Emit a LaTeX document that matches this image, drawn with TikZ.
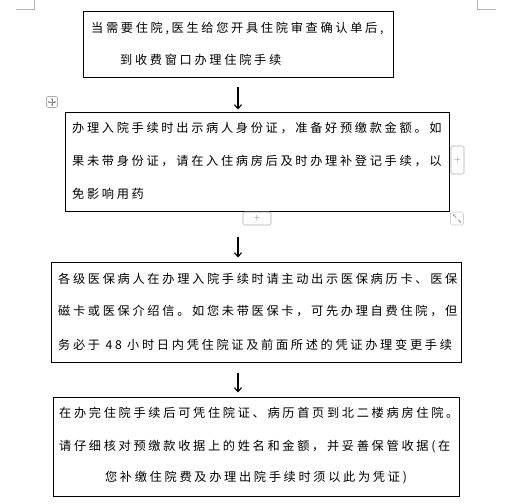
\documentclass[tikz,border=0pt]{standalone}
\usepackage{fontspec}
\newfontfamily\cjk[LetterSpace=22]{Noto Sans CJK SC}
\usetikzlibrary{arrows.meta}
\begin{document}
\begin{tikzpicture}[x=1pt,y=-1pt,
  box/.style={draw, line width=1pt, inner sep=0pt},
  txt/.style={anchor=west, inner sep=0pt, font=\cjk\fontsize{12.2pt}{14pt}\selectfont},
  flow/.style={line width=1.1pt, -{Straight Barb[length=4pt,width=7pt]}},
  ui/.style={draw=gray!65, rounded corners=1.5pt, line width=0.6pt, inner sep=0pt, text=gray!90!black, font=\sffamily\small}]
\useasboundingbox (0,0) rectangle (523,504);
% crop marks
\draw[gray!60, line width=0.6pt] (16,9) -- (34,9) -- (34,0);
\draw[gray!60, line width=0.6pt] (477,0) -- (477,9) -- (496,9);
% boxes
\node[box, minimum width=310pt, minimum height=66pt] (b1) at (238,44) {};
\node[box, minimum width=384pt, minimum height=99pt] (b2) at (257,161.5) {};
\node[box, minimum width=410pt, minimum height=100pt] (b3) at (256,312) {};
\node[box, minimum width=406pt, minimum height=99pt] (b4) at (256,446.5) {};
% texts
\node[txt] (t11) at (91,28) {当需要住院,医生给您开具住院审查确认单后,};
\node[txt] (t12) at (120,60) {到收费窗口办理住院手续};
\node[txt] (t21) at (72,128) {办理入院手续时出示病人身份证，准备好预缴款金额。如};
\node[txt] (t22) at (72,161) {果未带身份证，请在入住病房后及时办理补登记手续，以};
\node[txt] (t23) at (72,194) {免影响用药};
\node[txt] (t31) at (58,279) {各级医保病人在办理入院手续时请主动出示医保病历卡、医保};
\node[txt] (t32) at (58,311) {磁卡或医保介绍信。如您未带医保卡，可先办理自费住院，但};
\node[txt] (t33) at (58,345) {务必于 48 小时日内凭住院证及前面所述的凭证办理变更手续};
\node[txt] (t41) at (59,413) {在办完住院手续后可凭住院证、病历首页到北二楼病房住院。};
\node[txt] (t42) at (59,447) {请仔细核对预缴款收据上的姓名和金额，并妥善保管收据(在};
\node[txt, anchor=center] (t43) at (256,478) {您补缴住院费及办理出院手续时须以此为凭证)};
% arrows
\draw[flow] ([yshift=-9pt]b1.south) -- ([yshift=2pt]b1.south |- b2.north);
\draw[flow] ([yshift=-25pt]b1.south |- b2.south) -- ([yshift=4pt]b1.south |- b3.north);
\draw[flow] ([yshift=-10pt]b1.south |- b3.south) -- ([yshift=4pt]b1.south |- b4.north);
% editor handles
\node[ui, minimum size=11pt] (mv) at (52,102) {};
\draw[gray, line width=0.45pt, {Stealth[length=1.6pt,width=2.2pt]}-{Stealth[length=1.6pt,width=2.2pt]}] ([xshift=-4pt]mv.center) -- ([xshift=4pt]mv.center);
\draw[gray, line width=0.45pt, {Stealth[length=1.6pt,width=2.2pt]}-{Stealth[length=1.6pt,width=2.2pt]}] ([yshift=-4pt]mv.center) -- ([yshift=4pt]mv.center);
\node[ui, minimum width=13pt, minimum height=28pt] (pr) at (457.5,160) {+};
\node[ui, minimum width=28pt, minimum height=13pt] (pb) at (257,218.5) {+};
\node[ui, draw=gray!35, minimum size=13pt] (rz) at (457,218.5) {};
\draw[gray, line width=0.45pt, -{Stealth[length=1.5pt,width=2pt]}] ([xshift=-1pt,yshift=1pt]rz.center) -- ([xshift=-4pt,yshift=4pt]rz.center);
\draw[gray, line width=0.45pt, -{Stealth[length=1.5pt,width=2pt]}] ([xshift=1pt,yshift=-1pt]rz.center) -- ([xshift=4pt,yshift=-4pt]rz.center);
\end{tikzpicture}
\end{document}
